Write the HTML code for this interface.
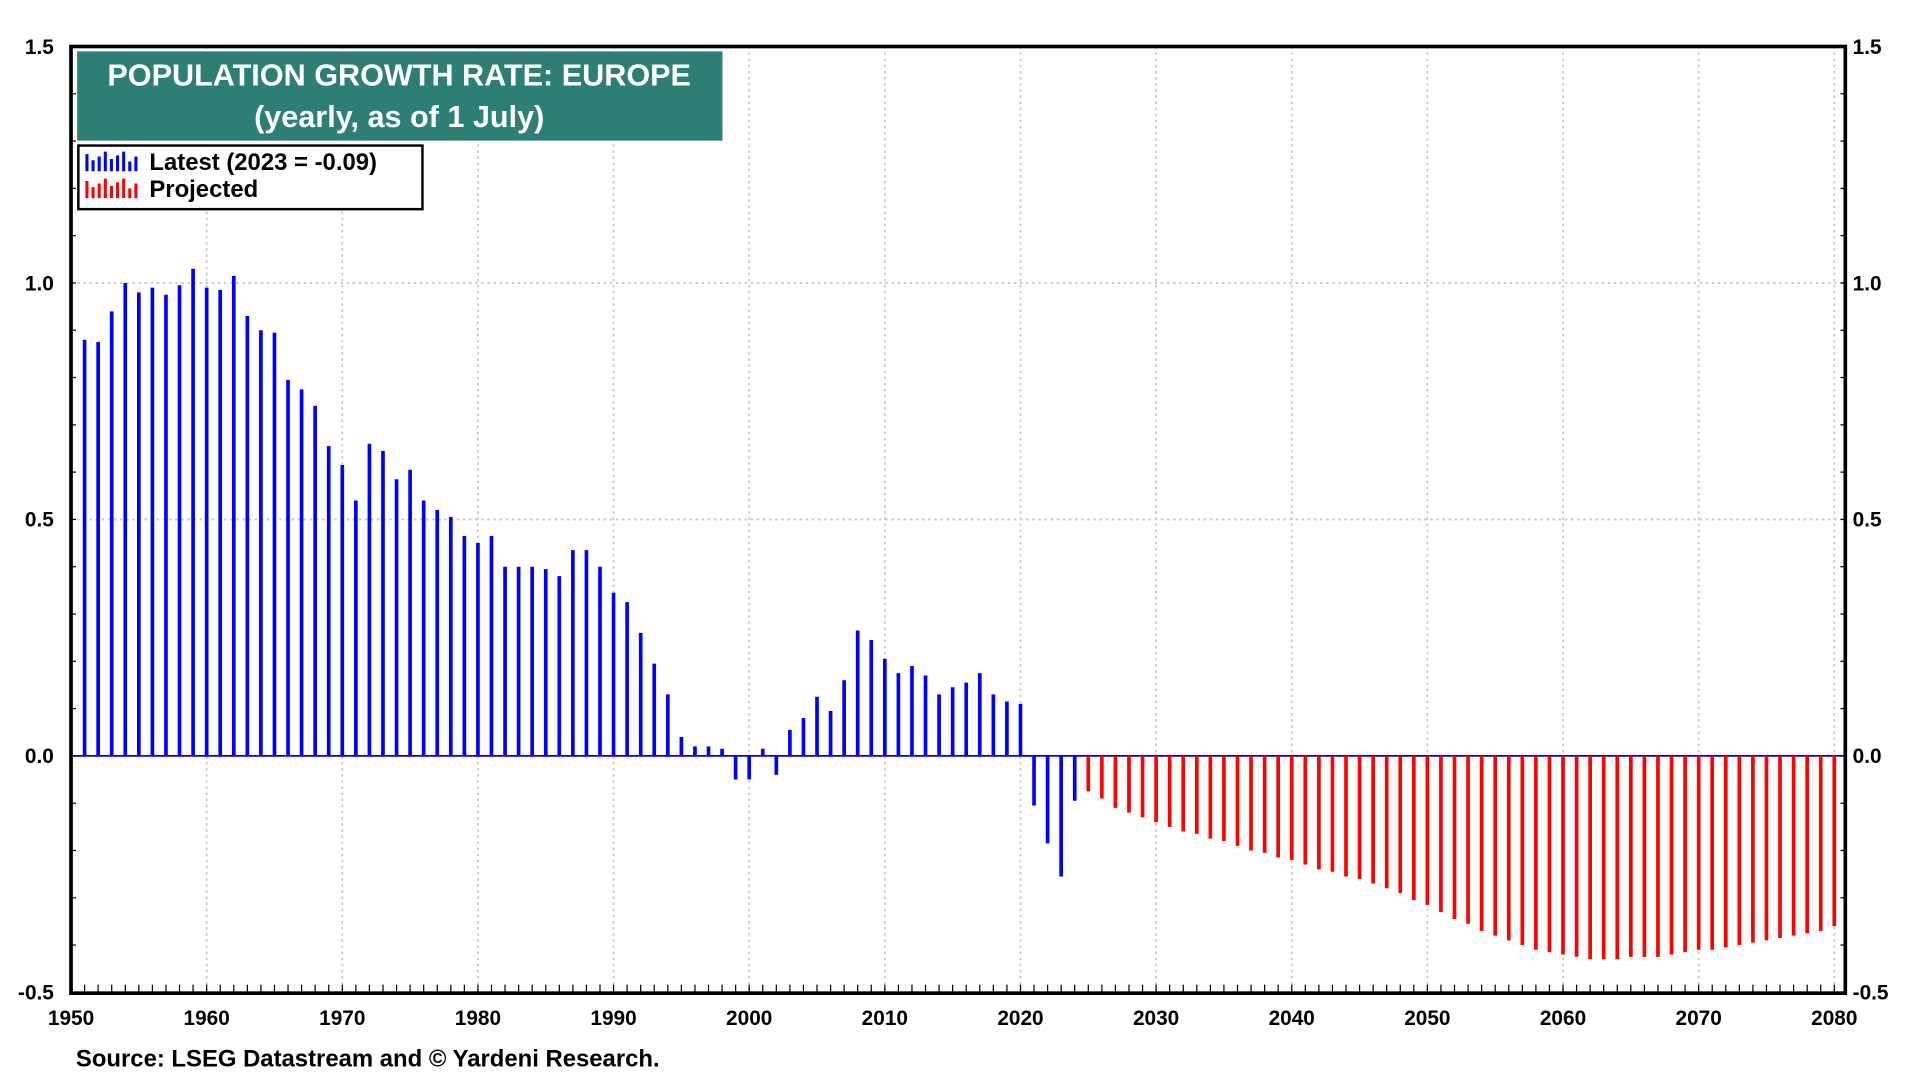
<!DOCTYPE html>
<html><head><meta charset="utf-8"><style>
html,body{margin:0;padding:0;background:#fff;}
svg{display:block;font-family:"Liberation Sans",Arial,sans-serif;}
</style></head><body>
<svg id="chart" width="1920" height="1080" viewBox="0 0 1568 883" preserveAspectRatio="none" xmlns="http://www.w3.org/2000/svg">
<g id="grid"></g>
<g id="bars"></g>
<g id="axes"></g>
<rect x="58" y="38" width="1449" height="774" fill="none" stroke="#000" stroke-width="3"/>
<rect x="63" y="42" width="527" height="73" fill="#2e7f73"/>
<text x="326" y="70" text-anchor="middle" fill="#fff" font-size="25" font-weight="bold">POPULATION GROWTH RATE: EUROPE</text>
<text x="326" y="104" text-anchor="middle" fill="#fff" font-size="25" font-weight="bold">(yearly, as of 1 July)</text>
<g>
<rect x="64" y="119" width="281" height="52" fill="#fff" stroke="#000" stroke-width="2"/>
<g>
<path d="M71 140V126M76 140V131M81 140V128M86 140V124M91 140V130M96 140V127M101 140V124M106 140V132M111 140V128" stroke="#00f" stroke-width="2.5"/>
<text x="122" y="139" font-size="19.5" font-weight="bold">Latest (2023 = -0.09)</text></g>
<g>
<path d="M71 162V148M76 162V153M81 162V150M86 162V146M91 162V152M96 162V149M101 162V146M106 162V154M111 162V150" stroke="#f00" stroke-width="2.5"/>
<text x="122" y="161" font-size="19.5" font-weight="bold">Projected</text></g>
</g>
<text x="62" y="872" font-size="19.5" font-weight="bold">Source: LSEG Datastream and © Yardeni Research.</text>
<script>
const years = [];
for (let y = 1951; y <= 2080; y++) years.push(y);
const actualValues = [0.88,0.875,0.94,1.0,0.98,0.99,0.975,0.995,1.03,0.99,0.985,1.015,0.93,0.90,0.895,0.795,0.775,0.74,0.655,0.615,0.54,0.66,0.645,0.585,0.605,0.54,0.52,0.505,0.465,0.45,0.465,0.40,0.40,0.40,0.395,0.38,0.435,0.435,0.40,0.345,0.325,0.26,0.195,0.13,0.04,0.02,0.02,0.015,-0.05,-0.05,0.015,-0.04,0.055,0.08,0.125,0.095,0.16,0.265,0.245,0.205,0.175,0.19,0.17,0.13,0.145,0.155,0.175,0.13,0.115,0.11,-0.105,-0.185,-0.255,-0.095];
const projectedValues = [-0.075,-0.09,-0.11,-0.12,-0.13,-0.14,-0.15,-0.16,-0.165,-0.175,-0.18,-0.19,-0.20,-0.205,-0.215,-0.22,-0.23,-0.24,-0.245,-0.255,-0.26,-0.27,-0.28,-0.29,-0.305,-0.315,-0.33,-0.345,-0.355,-0.37,-0.38,-0.39,-0.40,-0.41,-0.415,-0.42,-0.425,-0.43,-0.43,-0.43,-0.425,-0.425,-0.425,-0.42,-0.415,-0.41,-0.41,-0.405,-0.40,-0.395,-0.39,-0.385,-0.38,-0.375,-0.37,-0.36];
const yTicks = [1.5,1.0,0.5,0.0,-0.5];
const yTickLabels = ["1.5","1.0","0.5","0.0","-0.5"];
const xTicks = [1950,1960,1970,1980,1990,2000,2010,2020,2030,2040,2050,2060,2070,2080];

const NS = "http://www.w3.org/2000/svg";
const X0 = 58, X1 = 1498, Y0 = 618, YTOP = 38;
function xs(yr){ return X0 + (yr - 1950) * (X1 - X0) / 130; }
function ys(v){ return Y0 - v * (Y0 - YTOP) / 1.5; }
function mk(tag, attrs, parent){ const e = document.createElementNS(NS, tag); for (const k in attrs) e.setAttribute(k, attrs[k]); parent.appendChild(e); return e; }
const grid = document.getElementById('grid'), bars = document.getElementById('bars'), axes = document.getElementById('axes');

yTicks.forEach((v, i) => {
  if (v !== 1.5 && v !== -0.5) {
    const g = mk('line', {x1:58, x2:1507, y1:ys(v), y2:ys(v), stroke:'#c8c8c8', 'stroke-width':1.5, 'stroke-dasharray':'2,3'}, grid);
    
    
  }
  const l = mk('text', {x:44, y:ys(v)+6, 'text-anchor':'end', 'font-size':17, 'font-weight':'bold'}, axes);
  l.textContent = yTickLabels[i];
  
  
  const r = mk('text', {x:1513, y:ys(v)+6, 'font-size':17, 'font-weight':'bold'}, axes);
  r.textContent = yTickLabels[i];
  
  
});
for (let v = -0.5; v <= 1.5001; v += 0.1) {
  mk('line', {x1:58, x2:62, y1:ys(v), y2:ys(v), stroke:'#000', 'stroke-width':1}, axes);
  mk('line', {x1:1503, x2:1507, y1:ys(v), y2:ys(v), stroke:'#000', 'stroke-width':1}, axes);
}
xTicks.forEach(yr => {
  if (yr > 1950) {
    const g = mk('line', {x1:xs(yr), x2:xs(yr), y1:38, y2:812, stroke:'#c8c8c8', 'stroke-width':1.5, 'stroke-dasharray':'2,3'}, grid);
    
    
  }
  const t = mk('text', {x:xs(yr), y:838, 'text-anchor':'middle', 'font-size':17, 'font-weight':'bold'}, axes);
  t.textContent = String(yr);
  
  
});
for (let yr = 1950; yr <= 2080; yr++) {
  mk('line', {x1:xs(yr), x2:xs(yr), y1:812, y2:805, stroke:'#000', 'stroke-width':1}, axes);
}
mk('line', {x1:58, x2:1507, y1:ys(0), y2:ys(0), stroke:'#00f', 'stroke-width':1.5}, grid);

actualValues.forEach((v, i) => {
  const yr = years[i];
  const b = mk('line', {x1:xs(yr), x2:xs(yr), y1:ys(0), y2:ys(v), stroke:'#0000ff', 'stroke-width':3}, bars);
  
  
});
projectedValues.forEach((v, i) => {
  const yr = years[actualValues.length + i];
  const b = mk('line', {x1:xs(yr), x2:xs(yr), y1:ys(0), y2:ys(v), stroke:'#ff0000', 'stroke-width':3}, bars);
  
  
});
</script>
</svg>
</body></html>
